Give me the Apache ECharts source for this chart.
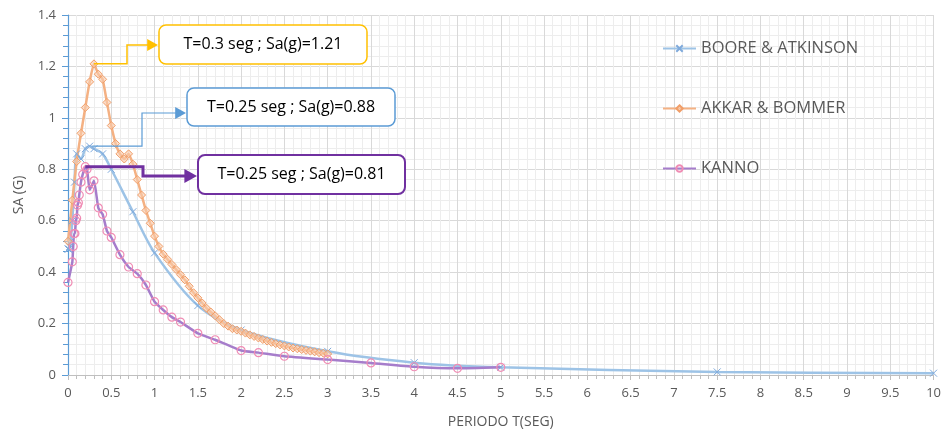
<!DOCTYPE html>
<html>
<head>
<meta charset="utf-8">
<script src="https://cdn.jsdelivr.net/npm/echarts@6/dist/echarts.min.js"></script>
<style>
html, body { margin: 0; padding: 0; background: #fff; }
#chart { width: 944px; height: 434px; }
</style>
</head>
<body>
<div id="chart"></div>
<script>
// BOORE & ATKINSON
const booreT = [0, 0.01, 0.02, 0.03, 0.05, 0.075, 0.1, 0.15, 0.2, 0.25, 0.3, 0.4, 0.5, 0.75, 1, 1.5, 2, 3, 4, 5, 7.5, 10];
const booreSa = [0.49, 0.49, 0.5, 0.52, 0.6, 0.75, 0.86, 0.84, 0.88, 0.89, 0.88, 0.86, 0.8, 0.635, 0.475, 0.27, 0.175, 0.092, 0.048, 0.03, 0.012, 0.007];

// AKKAR & BOMMER
const akkarT = [0, 0.05, 0.1, 0.15, 0.2, 0.25, 0.3, 0.35, 0.4, 0.45, 0.5, 0.55, 0.6, 0.65, 0.7, 0.75, 0.8, 0.85, 0.9, 0.95,
	1, 1.05, 1.1, 1.15, 1.2, 1.25, 1.3, 1.35, 1.4, 1.45, 1.5, 1.55, 1.6, 1.65, 1.7, 1.75, 1.8, 1.85, 1.9, 1.95,
	2, 2.05, 2.1, 2.15, 2.2, 2.25, 2.3, 2.35, 2.4, 2.45, 2.5, 2.55, 2.6, 2.65, 2.7, 2.75, 2.8, 2.85, 2.9, 2.95, 3];
const akkarSa = [0.52, 0.68, 0.83, 0.94, 1.04, 1.14, 1.21, 1.17, 1.15, 1.06, 0.97, 0.9, 0.86, 0.84, 0.86, 0.82, 0.76, 0.7, 0.64, 0.59,
	0.54, 0.5, 0.47, 0.45, 0.43, 0.41, 0.39, 0.37, 0.345, 0.32, 0.3, 0.28, 0.26, 0.245, 0.23, 0.215, 0.2, 0.19, 0.18, 0.175,
	0.17, 0.163, 0.156, 0.15, 0.144, 0.138, 0.132, 0.127, 0.122, 0.117, 0.113, 0.109, 0.105, 0.102, 0.099, 0.096, 0.093, 0.09, 0.087, 0.085, 0.082];

// KANNO
const kannoT = [0, 0.05, 0.06, 0.07, 0.08, 0.09, 0.1, 0.11, 0.12, 0.13, 0.15, 0.17, 0.2, 0.22, 0.25, 0.3, 0.35, 0.4, 0.45, 0.5,
	0.6, 0.7, 0.8, 0.9, 1, 1.1, 1.2, 1.3, 1.5, 1.7, 2, 2.2, 2.5, 3, 3.5, 4, 4.5, 5];
const kannoSa = [0.36, 0.44, 0.5, 0.55, 0.55, 0.6, 0.61, 0.66, 0.67, 0.7, 0.75, 0.78, 0.81, 0.8, 0.72, 0.755, 0.65, 0.625, 0.56, 0.535,
	0.468, 0.42, 0.394, 0.35, 0.285, 0.253, 0.225, 0.206, 0.162, 0.137, 0.095, 0.087, 0.073, 0.06, 0.047, 0.032, 0.026, 0.03];

const seriesNames = ['BOORE & ATKINSON', 'AKKAR & BOMMER', 'KANNO'];

// 注释框
const notes = [
	{ text: 'T=0.3 seg ; Sa(g)=1.21', at: [0.3, 1.21], color: '#FFC000', width: 1.5, elbowX: 127, arrowY: 45, box: [159, 25, 208, 39] },
	{ text: 'T=0.25 seg ; Sa(g)=0.88', at: [0.28, 0.89], color: '#5B9BD5', width: 1.2, elbowX: 142, arrowY: 113, box: [187, 88, 208, 38] },
	{ text: 'T=0.25 seg ; Sa(g)=0.81', at: [0.2, 0.81], color: '#7030A0', width: 3, elbowX: 143, arrowY: 176, box: [198, 155, 207, 39] }
];

const zip = (xs, ys) => xs.map((x, i) => [x, ys[i]]);
const font = '"Open Sans", sans-serif';

const gridStyle = {
	min: 0,
	type: 'value',
	axisLabel: { color: '#595959', fontSize: 13, fontFamily: font },
	splitLine: { show: true, lineStyle: { color: '#D9D9D9', width: 1 } },
	minorTick: { show: true, splitNumber: 5, length: 4 },
	minorSplitLine: { show: true, lineStyle: { color: '#EDEDED', width: 1 } }
};

const chart = echarts.init(document.getElementById('chart'));
chart.setOption({
	backgroundColor: '#fff',
	animation: false,
	grid: { left: 68, right: 8, top: 15, bottom: 57 },
	legend: {
		orient: 'vertical',
		left: 657,
		top: 35,
		itemGap: 43,
		itemWidth: 33,
		itemHeight: 8,
		textStyle: { color: '#595959', fontSize: 16.5, fontFamily: font },
		data: seriesNames
	},
	xAxis: {
		...gridStyle,
		max: 10,
		interval: 0.5,
		name: 'PERIODO T(SEG)',
		nameLocation: 'middle',
		nameGap: 40,
		nameTextStyle: { color: '#595959', fontSize: 14, fontFamily: font },
		axisLine: { show: true, lineStyle: { color: '#BFBFBF' } },
		axisTick: { show: true, length: 5, lineStyle: { color: '#BFBFBF' } },
		minorTick: { show: true, splitNumber: 5, length: 4, lineStyle: { color: '#BFBFBF' } },
		axisLabel: { ...gridStyle.axisLabel, margin: 12 }
	},
	yAxis: {
		...gridStyle,
		max: 1.4,
		interval: 0.2,
		name: 'SA (G)',
		nameLocation: 'middle',
		nameGap: 42,
		nameTextStyle: { color: '#595959', fontSize: 14, fontFamily: font },
		axisLine: { show: true, lineStyle: { color: '#5B9BD5', width: 1.2 } },
		axisTick: { show: true, length: 6, lineStyle: { color: '#5B9BD5' } },
		minorTick: { show: true, splitNumber: 5, length: 5, lineStyle: { color: '#5B9BD5' } },
		axisLabel: { ...gridStyle.axisLabel, margin: 12 }
	},
	series: [
		{
			name: seriesNames[0],
			type: 'line',
			smooth: 0.3,
			data: zip(booreT, booreSa),
			symbol: 'path://M0,0L10,10M10,0L0,10',
			symbolSize: 7,
			lineStyle: { color: '#9DC3E6', width: 2.5 },
			itemStyle: { color: '#8CB6E0', borderColor: '#7FAADC', borderWidth: 1 }
		},
		{
			name: seriesNames[1],
			type: 'line',
			smooth: 0.15,
			data: zip(akkarT, akkarSa),
			symbol: 'diamond',
			symbolSize: 8,
			lineStyle: { color: '#F4B183', width: 2.5 },
			itemStyle: { color: 'rgba(248,203,173,0.6)', borderColor: '#F19E68', borderWidth: 1 }
		},
		{
			name: seriesNames[2],
			type: 'line',
			smooth: 0.15,
			data: zip(kannoT, kannoSa),
			symbol: 'circle',
			symbolSize: 8,
			lineStyle: { color: '#A67DCB', width: 2.5 },
			itemStyle: { color: 'rgba(255,255,255,0)', borderColor: '#F08CB4', borderWidth: 1.2 }
		}
	]
});

// 画注释与箭头
const elements = [];
notes.forEach((n) => {
	const p = chart.convertToPixel({ gridIndex: 0 }, n.at);
	const [bx, by, bw, bh] = n.box;
	const tip = bx - 1;
	const ah = n.width > 2 ? 7 : 6;
	elements.push({
		type: 'polyline',
		shape: { points: [[p[0], p[1]], [n.elbowX, p[1]], [n.elbowX, n.arrowY], [tip - ah * 1.6, n.arrowY]] },
		style: { stroke: n.color, lineWidth: n.width, fill: null },
		z: 100
	});
	elements.push({
		type: 'polygon',
		shape: { points: [[tip, n.arrowY], [tip - ah * 1.8, n.arrowY - ah], [tip - ah * 1.8, n.arrowY + ah]] },
		style: { fill: n.color },
		z: 100
	});
	elements.push({
		type: 'rect',
		shape: { x: bx, y: by, width: bw, height: bh, r: 7 },
		style: { fill: '#fff', stroke: n.color, lineWidth: n.width > 2 ? 2 : 1.5 },
		z: 100
	});
	elements.push({
		type: 'text',
		x: bx + bw / 2,
		y: by + bh / 2,
		style: { text: n.text, fill: '#000', fontSize: 16, fontFamily: font, align: 'center', verticalAlign: 'middle' },
		z: 101
	});
});
chart.setOption({ graphic: elements });
</script>
</body>
</html>
